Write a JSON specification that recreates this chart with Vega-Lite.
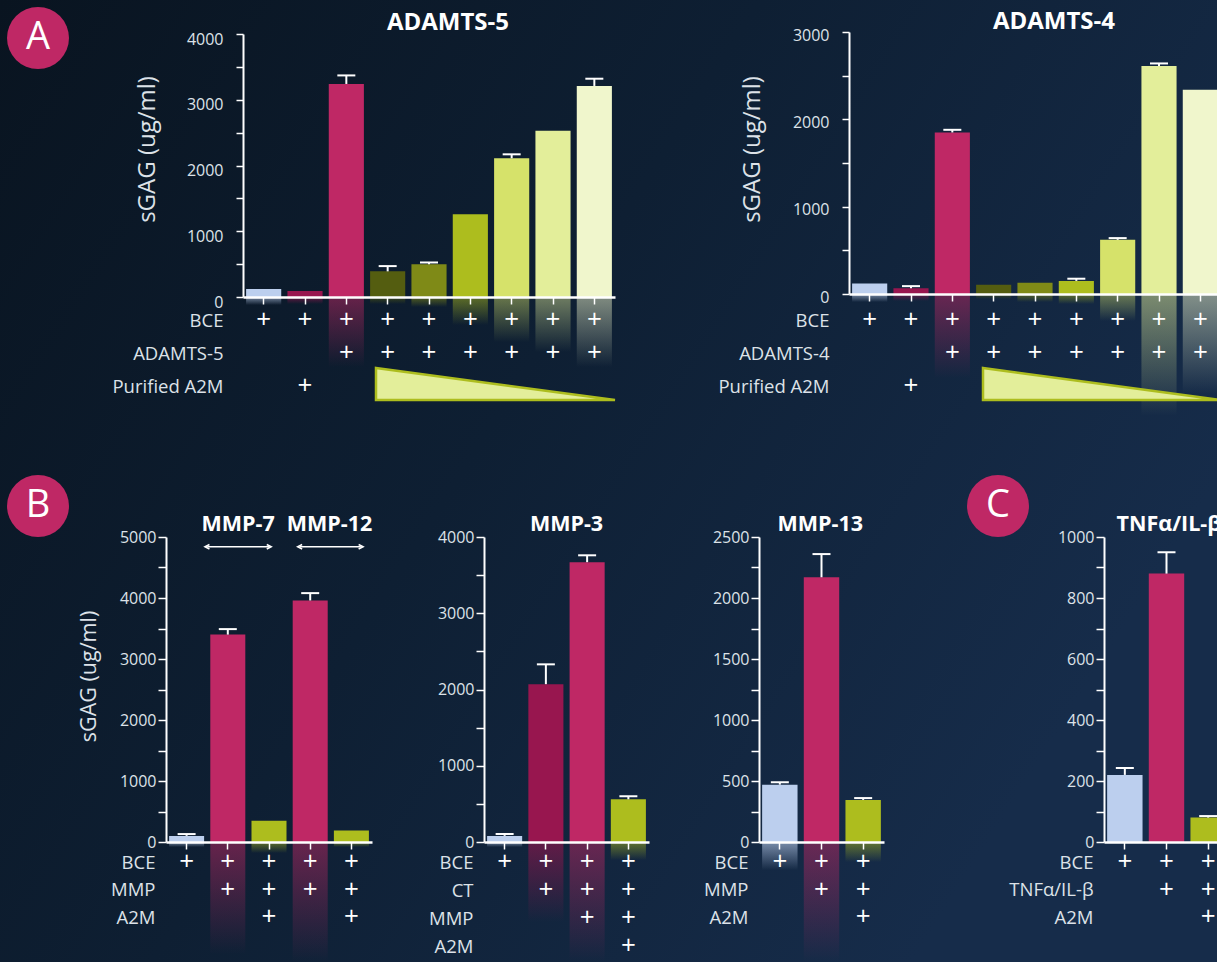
{"$schema":"https://vega.github.io/schema/vega-lite/v6.json","background":"#0f2136","padding":0,"config":{"view":{"stroke":null},"font":"Open Sans","axis":{"labelFont":"Open Sans","titleFont":"Open Sans","labelColor":"#dde2e8","titleColor":"#dde2e8","labelFontSize":16,"titleFontWeight":"normal","grid":false}},"datasets":{"bars":[
{"p":"A5","c":"1","v":120,"k":"light","g":8,"z":0},{"p":"A5","c":"2","v":90,"k":"dark","g":7,"z":0},{"p":"A5","c":"3","v":3240,"top":3370,"k":"mag","g":70,"z":0},{"p":"A5","c":"4","v":390,"top":470,"k":"ol1","g":7,"z":0},{"p":"A5","c":"5","v":500,"top":525,"k":"ol2","g":10,"z":0},{"p":"A5","c":"6","v":1260,"k":"lime","g":28,"z":0},{"p":"A5","c":"7","v":2110,"top":2170,"k":"y1","g":45,"z":0},{"p":"A5","c":"8","v":2530,"k":"y2","g":55,"z":0},{"p":"A5","c":"9","v":3210,"top":3320,"k":"y3","g":70,"z":0},
{"p":"A4","c":"1","v":120,"k":"light","g":8,"z":0},{"p":"A4","c":"2","v":65,"top":90,"k":"dark","g":7,"z":0},{"p":"A4","c":"3","v":1850,"top":1880,"k":"mag","g":84,"z":0},{"p":"A4","c":"4","v":105,"k":"ol1","g":5,"z":0},{"p":"A4","c":"5","v":130,"k":"ol2","g":8,"z":0},{"p":"A4","c":"6","v":150,"top":175,"k":"lime","g":10,"z":0},{"p":"A4","c":"7","v":620,"top":640,"k":"y1","g":27,"z":0},{"p":"A4","c":"8","v":2610,"top":2640,"k":"y2","g":122,"z":0},{"p":"A4","c":"9","v":2340,"k":"y3","g":100,"z":0},
{"p":"B","c":"1","v":100,"top":130,"k":"light","g":5,"z":0},{"p":"B","c":"2","v":3400,"top":3490,"k":"mag","g":112,"z":0},{"p":"B","c":"3","v":350,"k":"lime","g":11,"z":0},{"p":"B","c":"4","v":3960,"top":4080,"k":"mag","g":120,"z":0},{"p":"B","c":"5","v":190,"k":"lime","g":5,"z":0},
{"p":"M3","c":"1","v":80,"top":105,"k":"light","g":5,"z":0},{"p":"M3","c":"2","v":2070,"top":2330,"k":"dark","g":80,"z":0},{"p":"M3","c":"3","v":3670,"top":3760,"k":"mag","g":120,"z":0},{"p":"M3","c":"4","v":560,"top":600,"k":"lime","g":18,"z":0},
{"p":"M13","c":"1","v":470,"top":490,"k":"light","g":28,"z":0},{"p":"M13","c":"2","v":2170,"top":2360,"k":"mag","g":120,"z":0},{"p":"M13","c":"3","v":345,"top":360,"k":"lime","g":20,"z":0},
{"p":"C","c":"1","v":220,"top":243,"k":"light"},{"p":"C","c":"2","v":880,"top":950,"k":"mag"},{"p":"C","c":"3","v":80,"top":85,"k":"lime"}
],"plus":[
{"p":"A5","c":"1","r":"BCE"},{"p":"A5","c":"2","r":"BCE"},{"p":"A5","c":"3","r":"BCE"},{"p":"A5","c":"4","r":"BCE"},{"p":"A5","c":"5","r":"BCE"},{"p":"A5","c":"6","r":"BCE"},{"p":"A5","c":"7","r":"BCE"},{"p":"A5","c":"8","r":"BCE"},{"p":"A5","c":"9","r":"BCE"},
{"p":"A5","c":"3","r":"ADAMTS-5"},{"p":"A5","c":"4","r":"ADAMTS-5"},{"p":"A5","c":"5","r":"ADAMTS-5"},{"p":"A5","c":"6","r":"ADAMTS-5"},{"p":"A5","c":"7","r":"ADAMTS-5"},{"p":"A5","c":"8","r":"ADAMTS-5"},{"p":"A5","c":"9","r":"ADAMTS-5"},{"p":"A5","c":"2","r":"Purified A2M"},
{"p":"A4","c":"1","r":"BCE"},{"p":"A4","c":"2","r":"BCE"},{"p":"A4","c":"3","r":"BCE"},{"p":"A4","c":"4","r":"BCE"},{"p":"A4","c":"5","r":"BCE"},{"p":"A4","c":"6","r":"BCE"},{"p":"A4","c":"7","r":"BCE"},{"p":"A4","c":"8","r":"BCE"},{"p":"A4","c":"9","r":"BCE"},
{"p":"A4","c":"3","r":"ADAMTS-4"},{"p":"A4","c":"4","r":"ADAMTS-4"},{"p":"A4","c":"5","r":"ADAMTS-4"},{"p":"A4","c":"6","r":"ADAMTS-4"},{"p":"A4","c":"7","r":"ADAMTS-4"},{"p":"A4","c":"8","r":"ADAMTS-4"},{"p":"A4","c":"9","r":"ADAMTS-4"},{"p":"A4","c":"2","r":"Purified A2M"},
{"p":"B","c":"1","r":"BCE"},{"p":"B","c":"2","r":"BCE"},{"p":"B","c":"3","r":"BCE"},{"p":"B","c":"4","r":"BCE"},{"p":"B","c":"5","r":"BCE"},{"p":"B","c":"2","r":"MMP"},{"p":"B","c":"3","r":"MMP"},{"p":"B","c":"4","r":"MMP"},{"p":"B","c":"5","r":"MMP"},{"p":"B","c":"3","r":"A2M"},{"p":"B","c":"5","r":"A2M"},
{"p":"M3","c":"1","r":"BCE"},{"p":"M3","c":"2","r":"BCE"},{"p":"M3","c":"3","r":"BCE"},{"p":"M3","c":"4","r":"BCE"},{"p":"M3","c":"2","r":"CT"},{"p":"M3","c":"3","r":"CT"},{"p":"M3","c":"4","r":"CT"},{"p":"M3","c":"3","r":"MMP"},{"p":"M3","c":"4","r":"MMP"},{"p":"M3","c":"4","r":"A2M"},
{"p":"M13","c":"1","r":"BCE"},{"p":"M13","c":"2","r":"BCE"},{"p":"M13","c":"3","r":"BCE"},{"p":"M13","c":"2","r":"MMP"},{"p":"M13","c":"3","r":"MMP"},{"p":"M13","c":"3","r":"A2M"},
{"p":"C","c":"1","r":"BCE"},{"p":"C","c":"2","r":"BCE"},{"p":"C","c":"3","r":"BCE"},{"p":"C","c":"2","r":"TNFα/IL-β"},{"p":"C","c":"3","r":"TNFα/IL-β"},{"p":"C","c":"3","r":"A2M"}
]},
"spacing":505,"align":"none","bounds":"flush",
"vconcat":[
{"spacing":0,"align":"none","bounds":"flush","hconcat":[
{"width":77,"height":10,"data":{"values":[{"a":1}]},"mark":{"type":"point","opacity":0},"encoding":{}},
{"width":606,"height":265,"resolve":{"scale":{"x":"independent","y":"independent"},"axis":{"x":"independent","y":"independent"}},"layer":[
{"data":{"values":[{"x":0,"x2":1,"y":0,"y2":1}]},"mark":{"type":"rect","fill":{"gradient":"linear","x1":0,"y1":0,"x2":1,"y2":0.5,"stops":[{"offset":0,"color":"#091420"},{"offset":0.5,"color":"#0e1f33"},{"offset":1,"color":"#162c4a"}]}},"encoding":{"x":{"field":"x","type":"quantitative","axis":null,"scale":{"domain":[0,1],"range":[-243,974]}},"x2":{"field":"x2"},"y":{"field":"y","type":"quantitative","axis":null,"scale":{"domain":[0,1],"range":[-32,930]}},"y2":{"field":"y2"}}},
{"data":{"name":"bars"},"transform":[{"filter":"datum.p=='A5'"}],"encoding":{"x":{"field":"c","type":"nominal","axis":null,"scale":{"type":"band","domain":["1","2","3","4","5","6","7","8","9"],"range":[0,372],"paddingInner":0.15,"paddingOuter":0.075}},"y":{"field":"z","type":"quantitative","axis":null,"scale":{"domain":[0,100],"range":[265,365]}},"y2":{"field":"g"}},"layer":[
{"transform":[{"filter":"datum.k=='light'"}],"mark":{"type":"bar","fill":{"gradient":"linear","x1":0,"y1":0,"x2":0,"y2":1,"stops":[{"offset":0,"color":"rgba(188,207,238,0.6)"},{"offset":1,"color":"rgba(188,207,238,0)"}]}}},
{"transform":[{"filter":"datum.k=='dark'"}],"mark":{"type":"bar","fill":{"gradient":"linear","x1":0,"y1":0,"x2":0,"y2":1,"stops":[{"offset":0,"color":"rgba(152,22,79,0.6)"},{"offset":1,"color":"rgba(152,22,79,0)"}]}}},
{"transform":[{"filter":"datum.k=='mag'"}],"mark":{"type":"bar","fill":{"gradient":"linear","x1":0,"y1":0,"x2":0,"y2":1,"stops":[{"offset":0,"color":"rgba(191,40,101,0.5)"},{"offset":1,"color":"rgba(191,40,101,0)"}]}}},
{"transform":[{"filter":"datum.k=='ol1'"}],"mark":{"type":"bar","fill":{"gradient":"linear","x1":0,"y1":0,"x2":0,"y2":1,"stops":[{"offset":0,"color":"rgba(84,93,16,0.6)"},{"offset":1,"color":"rgba(84,93,16,0)"}]}}},
{"transform":[{"filter":"datum.k=='ol2'"}],"mark":{"type":"bar","fill":{"gradient":"linear","x1":0,"y1":0,"x2":0,"y2":1,"stops":[{"offset":0,"color":"rgba(127,138,23,0.6)"},{"offset":1,"color":"rgba(127,138,23,0)"}]}}},
{"transform":[{"filter":"datum.k=='lime'"}],"mark":{"type":"bar","fill":{"gradient":"linear","x1":0,"y1":0,"x2":0,"y2":1,"stops":[{"offset":0,"color":"rgba(173,189,30,0.5)"},{"offset":1,"color":"rgba(173,189,30,0)"}]}}},
{"transform":[{"filter":"datum.k=='y1'"}],"mark":{"type":"bar","fill":{"gradient":"linear","x1":0,"y1":0,"x2":0,"y2":1,"stops":[{"offset":0,"color":"rgba(214,226,106,0.45)"},{"offset":1,"color":"rgba(214,226,106,0)"}]}}},
{"transform":[{"filter":"datum.k=='y2'"}],"mark":{"type":"bar","fill":{"gradient":"linear","x1":0,"y1":0,"x2":0,"y2":1,"stops":[{"offset":0,"color":"rgba(227,238,154,0.45)"},{"offset":1,"color":"rgba(227,238,154,0)"}]}}},
{"transform":[{"filter":"datum.k=='y3'"}],"mark":{"type":"bar","fill":{"gradient":"linear","x1":0,"y1":0,"x2":0,"y2":1,"stops":[{"offset":0,"color":"rgba(240,246,204,0.5)"},{"offset":1,"color":"rgba(240,246,204,0)"}]}}}
]},
{"data":{"name":"bars"},"transform":[{"filter":"datum.p=='A5'"}],"mark":{"type":"bar"},"encoding":{"x":{"field":"c","type":"nominal","scale":{"type":"band","domain":["1","2","3","4","5","6","7","8","9"],"range":[0,372],"paddingInner":0.15,"paddingOuter":0.075},"axis":{"title":null,"labels":false,"domainColor":"#ffffff","domainWidth":2.5,"tickColor":"#ffffff","tickWidth":1.5,"tickSize":7,"zindex":1}},"y":{"field":"v","type":"quantitative","scale":{"domain":[0,4000],"range":[265,2]},"axis":{"orient":"left","title":"sGAG (ug/ml)","titleFontSize":24,"titleX":-84,"titleY":117,"values":[0,500,1000,1500,2000,2500,3000,3500,4000],"labelExpr":"datum.value%1000==0?datum.value:''","labelOffset":5,"labelPadding":13,"tickSize":7,"tickWidth":1.5,"tickColor":"#ffffff","domainColor":"#ffffff","domainWidth":2,"zindex":1}},"fill":{"field":"k","type":"nominal","legend":null,"scale":{"domain":["light","dark","mag","ol1","ol2","lime","y1","y2","y3"],"range":["#bccfee","#98164f","#bf2865","#545d10","#7f8a17","#adbd1e","#d6e26a","#e3ee9a","#f0f6cc"]}}}},
{"data":{"name":"bars"},"transform":[{"filter":"datum.p=='A5'&&isValid(datum.top)"}],"mark":{"type":"rule","color":"#ffffff","strokeWidth":2},"encoding":{"x":{"field":"c","type":"nominal","axis":null,"scale":{"type":"band","domain":["1","2","3","4","5","6","7","8","9"],"range":[0,372],"paddingInner":0.15,"paddingOuter":0.075}},"y":{"field":"v","type":"quantitative","axis":null,"scale":{"domain":[0,4000],"range":[265,2]}},"y2":{"field":"top"}}},
{"data":{"name":"bars"},"transform":[{"filter":"datum.p=='A5'&&isValid(datum.top)"}],"mark":{"type":"tick","color":"#ffffff","size":18,"thickness":2,"opacity":1},"encoding":{"x":{"field":"c","type":"nominal","axis":null,"scale":{"type":"band","domain":["1","2","3","4","5","6","7","8","9"],"range":[0,372],"paddingInner":0.15,"paddingOuter":0.075}},"y":{"field":"top","type":"quantitative","axis":null,"scale":{"domain":[0,4000],"range":[265,2]}}}},
{"data":{"name":"plus"},"transform":[{"filter":"datum.p=='A5'"}],"mark":{"type":"text","text":"+","fontSize":26,"color":"#ffffff"},"encoding":{"x":{"field":"c","type":"nominal","axis":null,"scale":{"type":"band","domain":["1","2","3","4","5","6","7","8","9"],"range":[0,372],"paddingInner":0.15,"paddingOuter":0.075}},"y":{"field":"r","type":"nominal","scale":{"domain":["BCE","ADAMTS-5","Purified A2M"],"range":[288,354],"padding":0},"axis":{"orient":"left","title":null,"domain":false,"ticks":false,"labelPadding":20,"labelLimit":200,"labelFontSize":18.5,"zindex":1}}}},
{"data":{"values":[{"t":0,"h":1,"b":0},{"t":1,"h":0,"b":0}]},"mark":{"type":"area","fill":"#e3ee9a","stroke":"#adbd1e","strokeWidth":2.5},"encoding":{"x":{"field":"t","type":"quantitative","axis":null,"scale":{"domain":[0,1],"range":[133,372]}},"y":{"field":"h","type":"quantitative","axis":null,"scale":{"domain":[0,1],"range":[368,336]}},"y2":{"field":"b"}}},
{"data":{"values":[{"bx":0,"by":0,"t":"A"}]},"mark":{"type":"point","filled":true,"size":3844,"fill":"#bf2865","opacity":1},"encoding":{"x":{"field":"bx","type":"quantitative","axis":null,"scale":{"domain":[0,1],"range":[-205,0]}},"y":{"field":"by","type":"quantitative","axis":null,"scale":{"domain":[0,1],"range":[6,0]}}}},
{"data":{"values":[{"bx":0,"by":0,"t":"A"}]},"mark":{"type":"text","fontSize":38,"color":"#ffffff"},"encoding":{"text":{"field":"t"},"x":{"field":"bx","type":"quantitative","axis":null,"scale":{"domain":[0,1],"range":[-205,0]}},"y":{"field":"by","type":"quantitative","axis":null,"scale":{"domain":[0,1],"range":[6,0]}}}},
{"data":{"values":[{"t":"ADAMTS-5","x":0.551,"y":1.034}]},"mark":{"type":"text","fontSize":24,"fontWeight":"bold","color":"#ffffff"},"encoding":{"text":{"field":"t"},"x":{"field":"x","type":"quantitative","axis":null,"scale":{"domain":[0,1],"range":[0,372]}},"y":{"field":"y","type":"quantitative","axis":null,"scale":{"domain":[0,1],"range":[265,0]}}}}
]},
{"width":372,"height":262,"resolve":{"scale":{"x":"independent","y":"independent"},"axis":{"x":"independent","y":"independent"}},"layer":[
{"data":{"name":"bars"},"transform":[{"filter":"datum.p=='A4'"}],"encoding":{"x":{"field":"c","type":"nominal","axis":null,"scale":{"type":"band","domain":["1","2","3","4","5","6","7","8","9"],"paddingInner":0.15,"paddingOuter":0.075}},"y":{"field":"z","type":"quantitative","axis":null,"scale":{"domain":[0,100],"range":[262,362]}},"y2":{"field":"g"}},"layer":[
{"transform":[{"filter":"datum.k=='light'"}],"mark":{"type":"bar","fill":{"gradient":"linear","x1":0,"y1":0,"x2":0,"y2":1,"stops":[{"offset":0,"color":"rgba(188,207,238,0.6)"},{"offset":1,"color":"rgba(188,207,238,0)"}]}}},
{"transform":[{"filter":"datum.k=='dark'"}],"mark":{"type":"bar","fill":{"gradient":"linear","x1":0,"y1":0,"x2":0,"y2":1,"stops":[{"offset":0,"color":"rgba(152,22,79,0.6)"},{"offset":1,"color":"rgba(152,22,79,0)"}]}}},
{"transform":[{"filter":"datum.k=='mag'"}],"mark":{"type":"bar","fill":{"gradient":"linear","x1":0,"y1":0,"x2":0,"y2":1,"stops":[{"offset":0,"color":"rgba(191,40,101,0.5)"},{"offset":1,"color":"rgba(191,40,101,0)"}]}}},
{"transform":[{"filter":"datum.k=='ol1'"}],"mark":{"type":"bar","fill":{"gradient":"linear","x1":0,"y1":0,"x2":0,"y2":1,"stops":[{"offset":0,"color":"rgba(84,93,16,0.6)"},{"offset":1,"color":"rgba(84,93,16,0)"}]}}},
{"transform":[{"filter":"datum.k=='ol2'"}],"mark":{"type":"bar","fill":{"gradient":"linear","x1":0,"y1":0,"x2":0,"y2":1,"stops":[{"offset":0,"color":"rgba(127,138,23,0.6)"},{"offset":1,"color":"rgba(127,138,23,0)"}]}}},
{"transform":[{"filter":"datum.k=='lime'"}],"mark":{"type":"bar","fill":{"gradient":"linear","x1":0,"y1":0,"x2":0,"y2":1,"stops":[{"offset":0,"color":"rgba(173,189,30,0.5)"},{"offset":1,"color":"rgba(173,189,30,0)"}]}}},
{"transform":[{"filter":"datum.k=='y1'"}],"mark":{"type":"bar","fill":{"gradient":"linear","x1":0,"y1":0,"x2":0,"y2":1,"stops":[{"offset":0,"color":"rgba(214,226,106,0.45)"},{"offset":1,"color":"rgba(214,226,106,0)"}]}}},
{"transform":[{"filter":"datum.k=='y2'"}],"mark":{"type":"bar","fill":{"gradient":"linear","x1":0,"y1":0,"x2":0,"y2":1,"stops":[{"offset":0,"color":"rgba(227,238,154,0.5)"},{"offset":1,"color":"rgba(227,238,154,0)"}]}}},
{"transform":[{"filter":"datum.k=='y3'"}],"mark":{"type":"bar","fill":{"gradient":"linear","x1":0,"y1":0,"x2":0,"y2":1,"stops":[{"offset":0,"color":"rgba(240,246,204,0.5)"},{"offset":1,"color":"rgba(240,246,204,0)"}]}}}
]},
{"data":{"name":"bars"},"transform":[{"filter":"datum.p=='A4'"}],"mark":{"type":"bar"},"encoding":{"x":{"field":"c","type":"nominal","scale":{"type":"band","domain":["1","2","3","4","5","6","7","8","9"],"paddingInner":0.15,"paddingOuter":0.075},"axis":{"title":null,"labels":false,"domainColor":"#ffffff","domainWidth":2.5,"tickColor":"#ffffff","tickWidth":1.5,"tickSize":7,"zindex":1}},"y":{"field":"v","type":"quantitative","scale":{"domain":[0,3000],"range":[262,0]},"axis":{"orient":"left","title":"sGAG (ug/ml)","titleFontSize":24,"titleX":-85,"titleY":117,"values":[0,500,1000,1500,2000,2500,3000],"labelExpr":"datum.value%1000==0?datum.value:''","labelOffset":3,"labelPadding":13,"tickSize":7,"tickWidth":1.5,"tickColor":"#ffffff","domainColor":"#ffffff","domainWidth":2,"zindex":1}},"fill":{"field":"k","type":"nominal","legend":null,"scale":{"domain":["light","dark","mag","ol1","ol2","lime","y1","y2","y3"],"range":["#bccfee","#98164f","#bf2865","#545d10","#7f8a17","#adbd1e","#d6e26a","#e3ee9a","#f0f6cc"]}}}},
{"data":{"name":"bars"},"transform":[{"filter":"datum.p=='A4'&&isValid(datum.top)"}],"mark":{"type":"rule","color":"#ffffff","strokeWidth":2},"encoding":{"x":{"field":"c","type":"nominal","axis":null,"scale":{"type":"band","domain":["1","2","3","4","5","6","7","8","9"],"paddingInner":0.15,"paddingOuter":0.075}},"y":{"field":"v","type":"quantitative","axis":null,"scale":{"domain":[0,3000],"range":[262,0]}},"y2":{"field":"top"}}},
{"data":{"name":"bars"},"transform":[{"filter":"datum.p=='A4'&&isValid(datum.top)"}],"mark":{"type":"tick","color":"#ffffff","size":18,"thickness":2,"opacity":1},"encoding":{"x":{"field":"c","type":"nominal","axis":null,"scale":{"type":"band","domain":["1","2","3","4","5","6","7","8","9"],"paddingInner":0.15,"paddingOuter":0.075}},"y":{"field":"top","type":"quantitative","axis":null,"scale":{"domain":[0,3000],"range":[262,0]}}}},
{"data":{"name":"plus"},"transform":[{"filter":"datum.p=='A4'"}],"mark":{"type":"text","text":"+","fontSize":26,"color":"#ffffff"},"encoding":{"x":{"field":"c","type":"nominal","axis":null,"scale":{"type":"band","domain":["1","2","3","4","5","6","7","8","9"],"paddingInner":0.15,"paddingOuter":0.075}},"y":{"field":"r","type":"nominal","scale":{"domain":["BCE","ADAMTS-4","Purified A2M"],"range":[288,354],"padding":0},"axis":{"orient":"left","title":null,"domain":false,"ticks":false,"labelPadding":20,"labelLimit":200,"labelFontSize":18.5}}}},
{"data":{"values":[{"t":0,"h":1,"b":0},{"t":1,"h":0,"b":0}]},"mark":{"type":"area","fill":"#e3ee9a","stroke":"#adbd1e","strokeWidth":2.5},"encoding":{"x":{"field":"t","type":"quantitative","axis":null,"scale":{"domain":[0,1],"range":[134,372]}},"y":{"field":"h","type":"quantitative","axis":null,"scale":{"domain":[0,1],"range":[368,336]}},"y2":{"field":"b"}}},
{"data":{"values":[{"t":"ADAMTS-4","x":0.551,"y":1.038}]},"mark":{"type":"text","fontSize":24,"fontWeight":"bold","color":"#ffffff"},"encoding":{"text":{"field":"t"},"x":{"field":"x","type":"quantitative","axis":null,"scale":{"domain":[0,1],"range":[0,372]}},"y":{"field":"y","type":"quantitative","axis":null,"scale":{"domain":[0,1],"range":[262,0]}}}}
]}
]},
{"spacing":0,"align":"none","bounds":"flush","hconcat":[
{"width":318,"height":305,"resolve":{"scale":{"x":"independent","y":"independent"},"axis":{"x":"independent","y":"independent"}},"layer":[
{"data":{"name":"bars"},"transform":[{"filter":"datum.p=='B'"}],"encoding":{"x":{"field":"c","type":"nominal","axis":null,"scale":{"type":"band","domain":["1","2","3","4","5"],"range":[0,206],"paddingInner":0.15,"paddingOuter":0.075}},"y":{"field":"z","type":"quantitative","axis":null,"scale":{"domain":[0,100],"range":[305,405]}},"y2":{"field":"g"}},"layer":[
{"transform":[{"filter":"datum.k=='light'"}],"mark":{"type":"bar","fill":{"gradient":"linear","x1":0,"y1":0,"x2":0,"y2":1,"stops":[{"offset":0,"color":"rgba(188,207,238,0.6)"},{"offset":1,"color":"rgba(188,207,238,0)"}]}}},
{"transform":[{"filter":"datum.k=='mag'"}],"mark":{"type":"bar","fill":{"gradient":"linear","x1":0,"y1":0,"x2":0,"y2":1,"stops":[{"offset":0,"color":"rgba(191,40,101,0.5)"},{"offset":1,"color":"rgba(191,40,101,0)"}]}}},
{"transform":[{"filter":"datum.k=='lime'"}],"mark":{"type":"bar","fill":{"gradient":"linear","x1":0,"y1":0,"x2":0,"y2":1,"stops":[{"offset":0,"color":"rgba(173,189,30,0.5)"},{"offset":1,"color":"rgba(173,189,30,0)"}]}}}
]},
{"data":{"name":"bars"},"transform":[{"filter":"datum.p=='B'"}],"mark":{"type":"bar"},"encoding":{"x":{"field":"c","type":"nominal","scale":{"type":"band","domain":["1","2","3","4","5"],"range":[0,206],"paddingInner":0.15,"paddingOuter":0.075},"axis":{"title":null,"labels":false,"domainColor":"#ffffff","domainWidth":2.5,"tickColor":"#ffffff","tickWidth":1.5,"tickSize":7,"zindex":1}},"y":{"field":"v","type":"quantitative","scale":{"domain":[0,5000]},"axis":{"orient":"left","title":"sGAG (ug/ml)","titleFontSize":21.5,"titleX":-66,"titleY":139,"values":[0,500,1000,1500,2000,2500,3000,3500,4000,4500,5000],"labelExpr":"datum.value%1000==0?datum.value:''","labelPadding":2,"tickSize":8,"tickWidth":1.5,"tickColor":"#ffffff","domainColor":"#ffffff","domainWidth":2,"zindex":1}},"fill":{"field":"k","type":"nominal","legend":null,"scale":{"domain":["light","mag","lime"],"range":["#bccfee","#bf2865","#adbd1e"]}}}},
{"data":{"name":"bars"},"transform":[{"filter":"datum.p=='B'&&isValid(datum.top)"}],"mark":{"type":"rule","color":"#ffffff","strokeWidth":2},"encoding":{"x":{"field":"c","type":"nominal","axis":null,"scale":{"type":"band","domain":["1","2","3","4","5"],"range":[0,206],"paddingInner":0.15,"paddingOuter":0.075}},"y":{"field":"v","type":"quantitative","axis":null,"scale":{"domain":[0,5000]}},"y2":{"field":"top"}}},
{"data":{"name":"bars"},"transform":[{"filter":"datum.p=='B'&&isValid(datum.top)"}],"mark":{"type":"tick","color":"#ffffff","size":18,"thickness":2,"opacity":1},"encoding":{"x":{"field":"c","type":"nominal","axis":null,"scale":{"type":"band","domain":["1","2","3","4","5"],"range":[0,206],"paddingInner":0.15,"paddingOuter":0.075}},"y":{"field":"top","type":"quantitative","axis":null,"scale":{"domain":[0,5000]}}}},
{"data":{"name":"plus"},"transform":[{"filter":"datum.p=='B'"}],"mark":{"type":"text","text":"+","fontSize":26,"color":"#ffffff"},"encoding":{"x":{"field":"c","type":"nominal","axis":null,"scale":{"type":"band","domain":["1","2","3","4","5"],"range":[0,206],"paddingInner":0.15,"paddingOuter":0.075}},"y":{"field":"r","type":"nominal","scale":{"domain":["BCE","MMP","A2M"],"range":[325,380],"padding":0},"axis":{"orient":"left","title":null,"domain":false,"ticks":false,"labelPadding":11,"labelLimit":200,"labelFontSize":18.5}}}},
{"data":{"values":[{"t":"MMP-7","x":1.75,"y":5200},{"t":"MMP-12","x":3.97,"y":5200}]},"mark":{"type":"text","fontSize":21.5,"fontWeight":"bold","color":"#ffffff"},"encoding":{"text":{"field":"t"},"x":{"field":"x","type":"quantitative","axis":null,"scale":{"domain":[0,5],"range":[0,206]}},"y":{"field":"y","type":"quantitative","axis":null,"scale":{"domain":[0,5000]}}}},
{"data":{"values":[{"x":1.0,"x2":2.5,"y":4840},{"x":3.25,"x2":4.73,"y":4840}]},"mark":{"type":"rule","color":"#ffffff","strokeWidth":1.5},"encoding":{"x":{"field":"x","type":"quantitative","axis":null,"scale":{"domain":[0,5],"range":[0,206]}},"x2":{"field":"x2"},"y":{"field":"y","type":"quantitative","axis":null,"scale":{"domain":[0,5000]}}}},
{"data":{"values":[{"x":1.0,"y":4840},{"x":3.25,"y":4840}]},"mark":{"type":"point","shape":"M0.5,-0.5L-0.5,0L0.5,0.5","size":80,"filled":false,"color":"#ffffff","strokeWidth":1.5,"opacity":1},"encoding":{"x":{"field":"x","type":"quantitative","axis":null,"scale":{"domain":[0,5],"range":[0,206]}},"y":{"field":"y","type":"quantitative","axis":null,"scale":{"domain":[0,5000]}}}},
{"data":{"values":[{"x":2.5,"y":4840},{"x":4.73,"y":4840}]},"mark":{"type":"point","shape":"M-0.5,-0.5L0.5,0L-0.5,0.5","size":80,"filled":false,"color":"#ffffff","strokeWidth":1.5,"opacity":1},"encoding":{"x":{"field":"x","type":"quantitative","axis":null,"scale":{"domain":[0,5],"range":[0,206]}},"y":{"field":"y","type":"quantitative","axis":null,"scale":{"domain":[0,5000]}}}},
{"data":{"values":[{"bx":0,"by":0,"t":"B"}]},"mark":{"type":"point","filled":true,"size":3844,"fill":"#bf2865","opacity":1},"encoding":{"x":{"field":"bx","type":"quantitative","axis":null,"scale":{"domain":[0,1],"range":[-128,0]}},"y":{"field":"by","type":"quantitative","axis":null,"scale":{"domain":[0,1],"range":[-31,0]}}}},
{"data":{"values":[{"bx":0,"by":0,"t":"B"}]},"mark":{"type":"text","fontSize":38,"color":"#ffffff"},"encoding":{"text":{"field":"t"},"x":{"field":"bx","type":"quantitative","axis":null,"scale":{"domain":[0,1],"range":[-128,0]}},"y":{"field":"by","type":"quantitative","axis":null,"scale":{"domain":[0,1],"range":[-31,0]}}}}
]},
{"width":275,"height":305,"resolve":{"scale":{"x":"independent","y":"independent"},"axis":{"x":"independent","y":"independent"}},"layer":[
{"data":{"name":"bars"},"transform":[{"filter":"datum.p=='M3'"}],"encoding":{"x":{"field":"c","type":"nominal","axis":null,"scale":{"type":"band","domain":["1","2","3","4"],"range":[0,165],"paddingInner":0.15,"paddingOuter":0.075}},"y":{"field":"z","type":"quantitative","axis":null,"scale":{"domain":[0,100],"range":[305,405]}},"y2":{"field":"g"}},"layer":[
{"transform":[{"filter":"datum.k=='light'"}],"mark":{"type":"bar","fill":{"gradient":"linear","x1":0,"y1":0,"x2":0,"y2":1,"stops":[{"offset":0,"color":"rgba(188,207,238,0.6)"},{"offset":1,"color":"rgba(188,207,238,0)"}]}}},
{"transform":[{"filter":"datum.k=='dark'"}],"mark":{"type":"bar","fill":{"gradient":"linear","x1":0,"y1":0,"x2":0,"y2":1,"stops":[{"offset":0,"color":"rgba(152,22,79,0.6)"},{"offset":1,"color":"rgba(152,22,79,0)"}]}}},
{"transform":[{"filter":"datum.k=='mag'"}],"mark":{"type":"bar","fill":{"gradient":"linear","x1":0,"y1":0,"x2":0,"y2":1,"stops":[{"offset":0,"color":"rgba(191,40,101,0.5)"},{"offset":1,"color":"rgba(191,40,101,0)"}]}}},
{"transform":[{"filter":"datum.k=='lime'"}],"mark":{"type":"bar","fill":{"gradient":"linear","x1":0,"y1":0,"x2":0,"y2":1,"stops":[{"offset":0,"color":"rgba(173,189,30,0.5)"},{"offset":1,"color":"rgba(173,189,30,0)"}]}}}
]},
{"data":{"name":"bars"},"transform":[{"filter":"datum.p=='M3'"}],"mark":{"type":"bar"},"encoding":{"x":{"field":"c","type":"nominal","scale":{"type":"band","domain":["1","2","3","4"],"range":[0,165],"paddingInner":0.15,"paddingOuter":0.075},"axis":{"title":null,"labels":false,"domainColor":"#ffffff","domainWidth":2.5,"tickColor":"#ffffff","tickWidth":1.5,"tickSize":7,"zindex":1}},"y":{"field":"v","type":"quantitative","scale":{"domain":[0,4000]},"axis":{"orient":"left","title":null,"values":[0,500,1000,1500,2000,2500,3000,3500,4000],"labelExpr":"datum.value%1000==0?datum.value:''","labelPadding":2,"tickSize":8,"tickWidth":1.5,"tickColor":"#ffffff","domainColor":"#ffffff","domainWidth":2,"zindex":1}},"fill":{"field":"k","type":"nominal","legend":null,"scale":{"domain":["light","dark","mag","lime"],"range":["#bccfee","#98164f","#bf2865","#adbd1e"]}}}},
{"data":{"name":"bars"},"transform":[{"filter":"datum.p=='M3'&&isValid(datum.top)"}],"mark":{"type":"rule","color":"#ffffff","strokeWidth":2},"encoding":{"x":{"field":"c","type":"nominal","axis":null,"scale":{"type":"band","domain":["1","2","3","4"],"range":[0,165],"paddingInner":0.15,"paddingOuter":0.075}},"y":{"field":"v","type":"quantitative","axis":null,"scale":{"domain":[0,4000]}},"y2":{"field":"top"}}},
{"data":{"name":"bars"},"transform":[{"filter":"datum.p=='M3'&&isValid(datum.top)"}],"mark":{"type":"tick","color":"#ffffff","size":18,"thickness":2,"opacity":1},"encoding":{"x":{"field":"c","type":"nominal","axis":null,"scale":{"type":"band","domain":["1","2","3","4"],"range":[0,165],"paddingInner":0.15,"paddingOuter":0.075}},"y":{"field":"top","type":"quantitative","axis":null,"scale":{"domain":[0,4000]}}}},
{"data":{"name":"plus"},"transform":[{"filter":"datum.p=='M3'"}],"mark":{"type":"text","text":"+","fontSize":26,"color":"#ffffff"},"encoding":{"x":{"field":"c","type":"nominal","axis":null,"scale":{"type":"band","domain":["1","2","3","4"],"range":[0,165],"paddingInner":0.15,"paddingOuter":0.075}},"y":{"field":"r","type":"nominal","scale":{"domain":["BCE","CT","MMP","A2M"],"range":[325,409],"padding":0},"axis":{"orient":"left","title":null,"domain":false,"ticks":false,"labelPadding":11,"labelLimit":200,"labelFontSize":18.5}}}},
{"data":{"values":[{"t":"MMP-3","x":0.5,"y":1.04}]},"mark":{"type":"text","fontSize":21.5,"fontWeight":"bold","color":"#ffffff"},"encoding":{"text":{"field":"t"},"x":{"field":"x","type":"quantitative","axis":null,"scale":{"domain":[0,1],"range":[0,165]}},"y":{"field":"y","type":"quantitative","axis":null,"scale":{"domain":[0,1],"range":[305,0]}}}}
]},
{"width":345,"height":305,"resolve":{"scale":{"x":"independent","y":"independent"},"axis":{"x":"independent","y":"independent"}},"layer":[
{"data":{"name":"bars"},"transform":[{"filter":"datum.p=='M13'"}],"encoding":{"x":{"field":"c","type":"nominal","axis":null,"scale":{"type":"band","domain":["1","2","3"],"range":[0,125],"paddingInner":0.15,"paddingOuter":0.075}},"y":{"field":"z","type":"quantitative","axis":null,"scale":{"domain":[0,100],"range":[305,405]}},"y2":{"field":"g"}},"layer":[
{"transform":[{"filter":"datum.k=='light'"}],"mark":{"type":"bar","fill":{"gradient":"linear","x1":0,"y1":0,"x2":0,"y2":1,"stops":[{"offset":0,"color":"rgba(188,207,238,0.6)"},{"offset":1,"color":"rgba(188,207,238,0)"}]}}},
{"transform":[{"filter":"datum.k=='mag'"}],"mark":{"type":"bar","fill":{"gradient":"linear","x1":0,"y1":0,"x2":0,"y2":1,"stops":[{"offset":0,"color":"rgba(191,40,101,0.5)"},{"offset":1,"color":"rgba(191,40,101,0)"}]}}},
{"transform":[{"filter":"datum.k=='lime'"}],"mark":{"type":"bar","fill":{"gradient":"linear","x1":0,"y1":0,"x2":0,"y2":1,"stops":[{"offset":0,"color":"rgba(173,189,30,0.5)"},{"offset":1,"color":"rgba(173,189,30,0)"}]}}}
]},
{"data":{"name":"bars"},"transform":[{"filter":"datum.p=='M13'"}],"mark":{"type":"bar"},"encoding":{"x":{"field":"c","type":"nominal","scale":{"type":"band","domain":["1","2","3"],"range":[0,125],"paddingInner":0.15,"paddingOuter":0.075},"axis":{"title":null,"labels":false,"domainColor":"#ffffff","domainWidth":2.5,"tickColor":"#ffffff","tickWidth":1.5,"tickSize":7,"zindex":1}},"y":{"field":"v","type":"quantitative","scale":{"domain":[0,2500]},"axis":{"orient":"left","title":null,"values":[0,250,500,750,1000,1250,1500,1750,2000,2250,2500],"labelExpr":"datum.value%500==0?datum.value:''","labelPadding":2,"tickSize":8,"tickWidth":1.5,"tickColor":"#ffffff","domainColor":"#ffffff","domainWidth":2,"zindex":1}},"fill":{"field":"k","type":"nominal","legend":null,"scale":{"domain":["light","mag","lime"],"range":["#bccfee","#bf2865","#adbd1e"]}}}},
{"data":{"name":"bars"},"transform":[{"filter":"datum.p=='M13'&&isValid(datum.top)"}],"mark":{"type":"rule","color":"#ffffff","strokeWidth":2},"encoding":{"x":{"field":"c","type":"nominal","axis":null,"scale":{"type":"band","domain":["1","2","3"],"range":[0,125],"paddingInner":0.15,"paddingOuter":0.075}},"y":{"field":"v","type":"quantitative","axis":null,"scale":{"domain":[0,2500]}},"y2":{"field":"top"}}},
{"data":{"name":"bars"},"transform":[{"filter":"datum.p=='M13'&&isValid(datum.top)"}],"mark":{"type":"tick","color":"#ffffff","size":18,"thickness":2,"opacity":1},"encoding":{"x":{"field":"c","type":"nominal","axis":null,"scale":{"type":"band","domain":["1","2","3"],"range":[0,125],"paddingInner":0.15,"paddingOuter":0.075}},"y":{"field":"top","type":"quantitative","axis":null,"scale":{"domain":[0,2500]}}}},
{"data":{"name":"plus"},"transform":[{"filter":"datum.p=='M13'"}],"mark":{"type":"text","text":"+","fontSize":26,"color":"#ffffff"},"encoding":{"x":{"field":"c","type":"nominal","axis":null,"scale":{"type":"band","domain":["1","2","3"],"range":[0,125],"paddingInner":0.15,"paddingOuter":0.075}},"y":{"field":"r","type":"nominal","scale":{"domain":["BCE","MMP","A2M"],"range":[325,380],"padding":0},"axis":{"orient":"left","title":null,"domain":false,"ticks":false,"labelPadding":11,"labelLimit":200,"labelFontSize":18.5}}}},
{"data":{"values":[{"t":"MMP-13","x":0.49,"y":1.04}]},"mark":{"type":"text","fontSize":21.5,"fontWeight":"bold","color":"#ffffff"},"encoding":{"text":{"field":"t"},"x":{"field":"x","type":"quantitative","axis":null,"scale":{"domain":[0,1],"range":[0,125]}},"y":{"field":"y","type":"quantitative","axis":null,"scale":{"domain":[0,1],"range":[305,0]}}}}
]},
{"width":125,"height":305,"resolve":{"scale":{"x":"independent","y":"independent"},"axis":{"x":"independent","y":"independent"}},"layer":[
{"data":{"name":"bars"},"transform":[{"filter":"datum.p=='C'"}],"mark":{"type":"bar"},"encoding":{"x":{"field":"c","type":"nominal","scale":{"type":"band","domain":["1","2","3"],"paddingInner":0.15,"paddingOuter":0.075},"axis":{"title":null,"labels":false,"domainColor":"#ffffff","domainWidth":2.5,"tickColor":"#ffffff","tickWidth":1.5,"tickSize":7,"zindex":1}},"y":{"field":"v","type":"quantitative","scale":{"domain":[0,1000]},"axis":{"orient":"left","title":null,"values":[0,100,200,300,400,500,600,700,800,900,1000],"labelExpr":"datum.value%200==0?datum.value:''","labelPadding":2,"tickSize":8,"tickWidth":1.5,"tickColor":"#ffffff","domainColor":"#ffffff","domainWidth":2,"zindex":1}},"fill":{"field":"k","type":"nominal","legend":null,"scale":{"domain":["light","mag","lime"],"range":["#bccfee","#bf2865","#adbd1e"]}}}},
{"data":{"name":"bars"},"transform":[{"filter":"datum.p=='C'&&isValid(datum.top)"}],"mark":{"type":"rule","color":"#ffffff","strokeWidth":2},"encoding":{"x":{"field":"c","type":"nominal","axis":null,"scale":{"type":"band","domain":["1","2","3"],"paddingInner":0.15,"paddingOuter":0.075}},"y":{"field":"v","type":"quantitative","axis":null,"scale":{"domain":[0,1000]}},"y2":{"field":"top"}}},
{"data":{"name":"bars"},"transform":[{"filter":"datum.p=='C'&&isValid(datum.top)"}],"mark":{"type":"tick","color":"#ffffff","size":18,"thickness":2,"opacity":1},"encoding":{"x":{"field":"c","type":"nominal","axis":null,"scale":{"type":"band","domain":["1","2","3"],"paddingInner":0.15,"paddingOuter":0.075}},"y":{"field":"top","type":"quantitative","axis":null,"scale":{"domain":[0,1000]}}}},
{"data":{"name":"plus"},"transform":[{"filter":"datum.p=='C'"}],"mark":{"type":"text","text":"+","fontSize":26,"color":"#ffffff"},"encoding":{"x":{"field":"c","type":"nominal","axis":null,"scale":{"type":"band","domain":["1","2","3"],"paddingInner":0.15,"paddingOuter":0.075}},"y":{"field":"r","type":"nominal","scale":{"domain":["BCE","TNFα/IL-β","A2M"],"range":[325,380],"padding":0},"axis":{"orient":"left","title":null,"domain":false,"ticks":false,"labelPadding":11,"labelLimit":200,"labelFontSize":18.5}}}},
{"data":{"values":[{"bx":0,"by":0,"t":"C"}]},"mark":{"type":"point","filled":true,"size":3844,"fill":"#bf2865","opacity":1},"encoding":{"x":{"field":"bx","type":"quantitative","axis":null,"scale":{"domain":[0,1],"range":[-106,0]}},"y":{"field":"by","type":"quantitative","axis":null,"scale":{"domain":[0,1],"range":[-31,0]}}}},
{"data":{"values":[{"bx":0,"by":0,"t":"C"}]},"mark":{"type":"text","fontSize":38,"color":"#ffffff"},"encoding":{"text":{"field":"t"},"x":{"field":"bx","type":"quantitative","axis":null,"scale":{"domain":[0,1],"range":[-106,0]}},"y":{"field":"by","type":"quantitative","axis":null,"scale":{"domain":[0,1],"range":[-31,0]}}}},
{"data":{"values":[{"t":"TNFα/IL-β","x":0.52,"y":1.04}]},"mark":{"type":"text","fontSize":21.5,"fontWeight":"bold","color":"#ffffff"},"encoding":{"text":{"field":"t"},"x":{"field":"x","type":"quantitative","axis":null,"scale":{"domain":[0,1],"range":[0,125]}},"y":{"field":"y","type":"quantitative","axis":null,"scale":{"domain":[0,1],"range":[305,0]}}}}
]}
]}
]}
